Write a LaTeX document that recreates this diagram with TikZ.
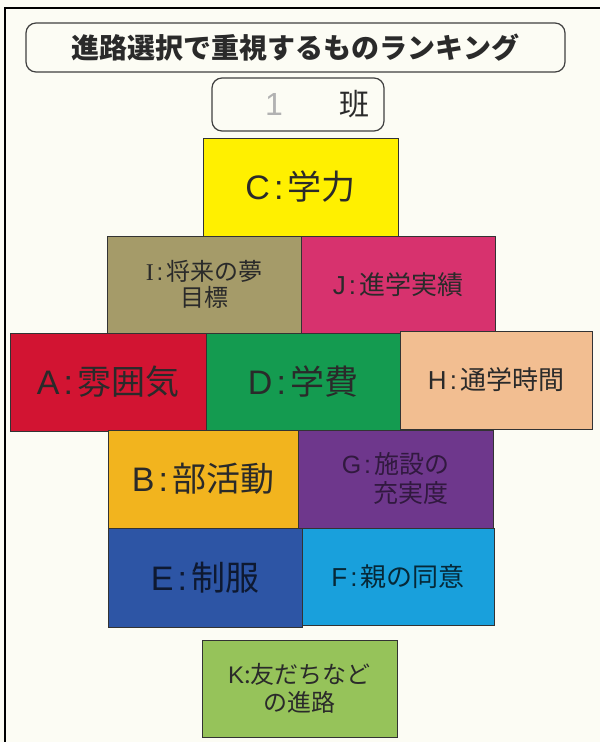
\documentclass[tikz,border=0pt]{standalone}
\usepackage{fontspec}
\setmainfont{Noto Sans CJK JP}
\newfontfamily\romanI{Liberation Serif}
\newfontfamily\latin{Liberation Sans}
\newcommand{\lab}[1]{{\latin #1\hspace{0.12em}:\hspace{0.12em}}}
\definecolor{bg}{HTML}{FCFCF4}
\definecolor{ink}{HTML}{2A2A2A}
\definecolor{cY}{RGB}{255,240,0}
\definecolor{cI}{RGB}{165,155,105}
\definecolor{cJ}{RGB}{215,50,110}
\definecolor{cA}{RGB}{210,20,50}
\definecolor{cD}{RGB}{20,155,80}
\definecolor{cH}{RGB}{242,190,145}
\definecolor{cB}{RGB}{242,180,30}
\definecolor{cG}{RGB}{110,55,140}
\definecolor{cE}{RGB}{45,85,165}
\definecolor{cF}{RGB}{25,160,220}
\definecolor{cK}{RGB}{150,195,90}
\tikzset{
  card/.style={draw=black!80, line width=0.9pt, inner sep=0pt, align=center,
    text=ink, minimum width=194pt, minimum height=97pt},
  bigtxt/.style={font=\fontsize{34}{36}\selectfont},
  midtxt/.style={font=\fontsize{26}{30}\selectfont},
  roundbox/.style={draw=black!75, line width=1.2pt, rounded corners=10pt, inner sep=0pt}
}
\begin{document}
\begin{tikzpicture}[x=1pt,y=-1pt]
\fill[bg] (0,0) rectangle (600,742);
\useasboundingbox (0,0) rectangle (600,742);
\draw[line width=2pt, black] (5,742) -- (5,8) -- (600,8);

\node[roundbox, minimum width=539pt, minimum height=49pt,
  font=\bfseries\fontsize{28}{30}\selectfont, text=ink] (title) at (295.5,47.5)
  {進路選択で重視するものランキング};
\node[roundbox, minimum width=172pt, minimum height=53pt] (cls) at (298,104.5) {};
\node[text=black!30, font=\latin\fontsize{32}{32}\selectfont] (num) at (274,104.5) {1};
\node[text=ink, font=\fontsize{30}{30}\selectfont] (han) at (354,104.5) {班};

\node[card, fill=cY, minimum width=195pt, minimum height=98pt, bigtxt] (C) at (300.5,187) {\lab{C}学力};
\node[card, fill=cI, font=\fontsize{24}{26}\selectfont] (I) at (204,284.5) {{\romanI I}\hspace{0.12em}{\latin :}\hspace{0.12em}将来の夢\\目標};
\node[card, fill=cJ, midtxt] (J) at (398,284.5) {\lab{J}進学実績};
\node[card, fill=cA, minimum width=196pt, minimum height=98pt, bigtxt] (A) at (108,382) {\lab{A}雰囲気};
\node[card, fill=cD, minimum height=98pt, bigtxt] (D) at (303,382) {\lab{D}学費};
\node[card, fill=cH, minimum width=192pt, minimum height=98pt, midtxt] (H) at (496,380) {\lab{H}通学時間};
\node[card, fill=cB, minimum width=190pt, minimum height=98pt, bigtxt] (B) at (203,479) {\lab{B}部活動};
\node[card, fill=cG, minimum width=195pt, minimum height=98pt, text=black!55!cG,
  font=\fontsize{25}{29}\selectfont] (G) at (395.5,479) {\lab{G}施設の\\\hspace*{1.2em}充実度};
\node[card, fill=cE, minimum height=99pt, bigtxt, text=black!70!cE] (E) at (205,577.5) {\lab{E}制服};
\node[card, fill=cF, minimum width=192pt, midtxt, text=black!75!cF] (F) at (398,576.5) {\lab{F}親の同意};
\node[card, fill=cK, minimum width=195pt, font=\fontsize{24}{28}\selectfont] (K) at (299.5,688.5) {{\latin K}:友だちなど\\の進路};
\end{tikzpicture}
\end{document}
